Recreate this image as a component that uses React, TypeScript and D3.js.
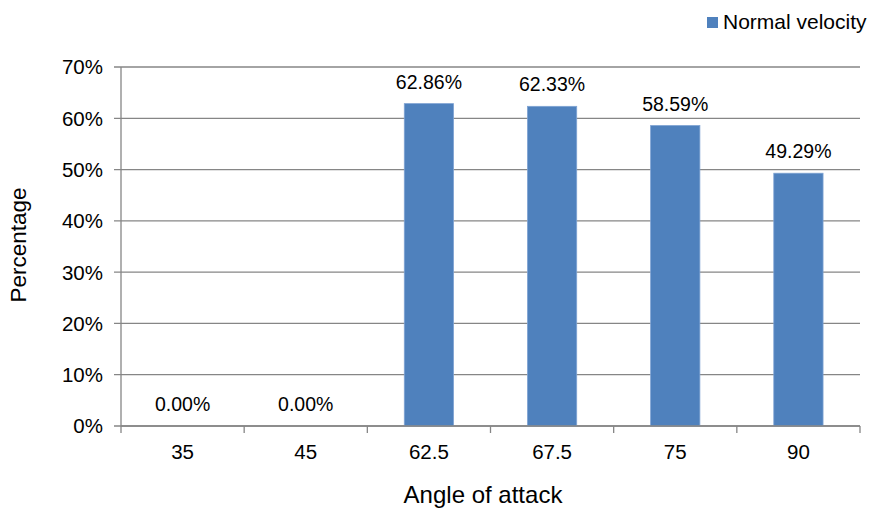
import React from "react";
import * as d3 from "d3";

const categories = ["35", "45", "62.5", "67.5", "75", "90"];
const normalVelocity = [0.0, 0.0, 62.86, 62.33, 58.59, 49.29];
const yTicks = [0, 10, 20, 30, 40, 50, 60, 70];
const seriesName = "Normal velocity";

const W = 870;
const H = 510;
const margin = { left: 121, right: 10, top: 67, bottom: 84 };
const FONT = "'Liberation Sans', Arial, sans-serif";
const GRID = "#868686";
const BAR = "#4F81BD";

export default function App() {
  const x = d3
    .scaleBand<string>()
    .domain(categories)
    .range([margin.left, W - margin.right])
    .padding(0);
  const y = d3
    .scaleLinear()
    .domain([0, 70])
    .range([H - margin.bottom, margin.top]);

  const barW = x.bandwidth() * 0.4;
  const x0 = margin.left;
  const x1 = W - margin.right;
  const y0 = y(0);

  return (
    <svg
      width={W}
      height={H}
      style={{ position: "absolute", left: 0, top: 0, background: "#fff" }}
      fontFamily={FONT}
    >
      {/* gridlines and y ticks */}
      {yTicks.map((t) => (
        <g key={t}>
          <line x1={x0 - 7} x2={x1} y1={y(t)} y2={y(t)} stroke={GRID} strokeWidth={1.3} />
          <text x={103} y={y(t)} dy="0.36em" textAnchor="end" fontSize={20.5} fill="#000">
            {t}%
          </text>
        </g>
      ))}
      {/* y axis line */}
      <line x1={x0} x2={x0} y1={margin.top} y2={y0} stroke={GRID} strokeWidth={1.3} />
      {/* x category boundary ticks */}
      {categories.map((c) => (
        <line
          key={"t" + c}
          x1={x(c) as number}
          x2={x(c) as number}
          y1={y0}
          y2={y0 + 7}
          stroke={GRID}
          strokeWidth={1.3}
        />
      ))}
      <line x1={x1} x2={x1} y1={y0} y2={y0 + 7} stroke={GRID} strokeWidth={1.3} />

      {/* bars and labels */}
      {categories.map((c, i) => {
        const cx = (x(c) as number) + x.bandwidth() / 2;
        const v = normalVelocity[i];
        return (
          <g key={"b" + c}>
            {v > 0 && (
              <rect
                x={cx - barW / 2}
                y={y(v)}
                width={barW}
                height={y0 - y(v)}
                fill={BAR}
                stroke="#7fa3d3"
                strokeWidth={0.8}
              />
            )}
            <text x={cx} y={y(v) - 15} textAnchor="middle" fontSize={19.5} fill="#000">
              {v.toFixed(2)}%
            </text>
            <text x={cx} y={459} textAnchor="middle" fontSize={20.5} fill="#000">
              {c}
            </text>
          </g>
        );
      })}
      {/* x axis line drawn over bars */}
      <line x1={x0} x2={x1} y1={y0} y2={y0} stroke={GRID} strokeWidth={1.3} />

      {/* axis titles */}
      <text x={483} y={503} textAnchor="middle" fontSize={24} fill="#000">
        Angle of attack
      </text>
      <text
        transform={`translate(26,245) rotate(-90)`}
        textAnchor="middle"
        fontSize={22.5}
        fill="#000"
      >
        Percentage
      </text>

      {/* legend */}
      <rect x={707} y={17} width={11} height={11} fill={BAR} />
      <text x={723} y={29} fontSize={21} fill="#000">
        {seriesName}
      </text>
    </svg>
  );
}
